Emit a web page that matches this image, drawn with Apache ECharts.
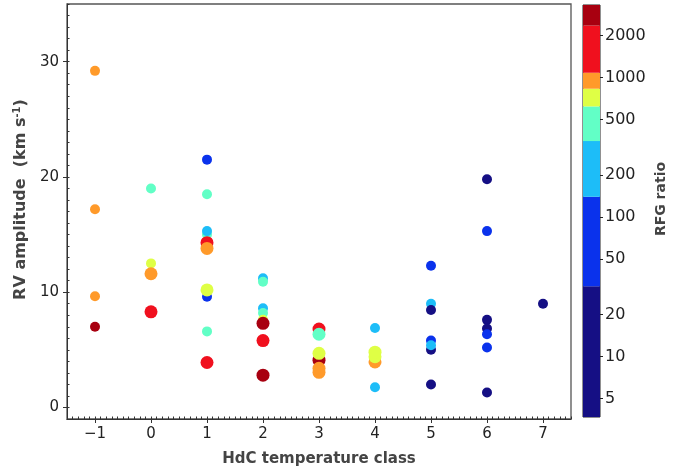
<!DOCTYPE html>
<html>
<head>
<meta charset="utf-8">
<script src="https://cdn.jsdelivr.net/npm/echarts@6/dist/echarts.min.js"></script>
<style>
  html, body { margin: 0; padding: 0; background: #fff; }
  #chart { width: 688px; height: 474px; }
</style>
</head>
<body>
<div id="chart"></div>
<script>
// HdC class, RV amplitude (km/s), RFG ratio, larger marker flag
const hdcClass = [-1, -1, -1, -1,
  0, 0, 0, 0,
  1, 1, 1, 1, 1, 1, 1, 1, 1, 1,
  2, 2, 2, 2, 2, 2, 2, 2,
  3, 3, 3, 3, 3, 3,
  4, 4, 4, 4, 4,
  5, 5, 5, 5, 5, 5, 5,
  6, 6, 6, 6, 6, 6, 6,
  7];
const rvAmp = [29.2, 17.2, 9.65, 7.0,
  19.0, 12.5, 11.6, 8.3,
  21.5, 18.5, 15.0, 15.3, 14.3, 13.8, 9.6, 10.2, 6.6, 3.9,
  11.2, 10.9, 8.6, 8.2, 7.6, 7.3, 5.8, 2.8,
  6.8, 6.35, 4.1, 4.7, 3.4, 3.05,
  6.9, 3.95, 4.4, 4.8, 1.75,
  12.3, 9.0, 8.45, 5.8, 5.0, 5.4, 2.0,
  19.8, 15.3, 7.6, 6.85, 6.35, 5.2, 1.3,
  9.0];
const rfgRatio = [950, 950, 950, 3000,
  450, 700, 950, 1500,
  60, 450, 450, 200, 1500, 950, 60, 700, 450, 1500,
  200, 450, 200, 450, 700, 3000, 1500, 3000,
  1500, 450, 3000, 700, 950, 950,
  200, 950, 700, 700, 200,
  60, 200, 10, 60, 10, 200, 10,
  10, 60, 10, 10, 60, 60, 10,
  10];
const bigMarker = [0, 0, 0, 0,
  0, 0, 1, 1,
  0, 0, 0, 0, 1, 1, 0, 1, 0, 1,
  0, 0, 0, 0, 0, 1, 1, 1,
  1, 1, 1, 1, 1, 1,
  0, 1, 1, 1, 0,
  0, 0, 0, 0, 0, 0, 0,
  0, 0, 0, 0, 0, 0, 0,
  0];

// colour bar bins (RFG ratio) and their colours
const rfgBins = [3.7, 32, 140, 350, 620, 830, 1080, 2350, 3300];
const binColors = ['#150f84', '#0a32ec', '#1dbdf8', '#62ffc6', '#dfff45', '#ff9a2a', '#f0101e', '#a80010'];
const rfgTicks = [5, 10, 20, 50, 100, 200, 500, 1000, 2000];

const xTicks = [-1, 0, 1, 2, 3, 4, 5, 6, 7];
const yTicks = [0, 10, 20, 30];

const points = hdcClass.map((c, i) => [c, rvAmp[i], rfgRatio[i], bigMarker[i]]);
const barData = binColors.map((c, i) => [Math.log10(rfgBins[i]), Math.log10(rfgBins[i + 1]), i]);

const xMinor = [];
for (let i = 0; i <= 90; i++) xMinor.push(Math.round((-1.5 + i * 0.1) * 10) / 10);
const yMinor = [];
for (let v = -1; v <= 35; v++) yMinor.push(v);

const font = 'DejaVu Sans';
const chart = echarts.init(document.getElementById('chart'));

chart.setOption({
  animation: false,
  textStyle: { fontFamily: font },
  grid: [
    { left: 67, right: 117, top: 4, bottom: 55, show: true, borderColor: '#555', borderWidth: 1.3 },
    { left: 583, width: 17, top: 5, height: 412, show: true, borderColor: '#222', borderWidth: 1 }
  ],
  visualMap: {
    type: 'piecewise',
    show: false,
    seriesIndex: 0,
    dimension: 2,
    pieces: binColors.map((c, i) => ({ gte: rfgBins[i], lt: rfgBins[i + 1], color: c }))
  },
  xAxis: [
    {
      gridIndex: 0, type: 'value', min: -1.5, max: 7.5, position: 'bottom',
      name: 'HdC temperature class', nameLocation: 'middle', nameGap: 33,
      nameTextStyle: { fontSize: 15, fontWeight: 'bold', color: '#444', fontFamily: font },
      axisLine: { onZero: false, lineStyle: { color: '#333', width: 1 } },
      axisTick: { customValues: xTicks, length: 4, lineStyle: { color: '#333' } },
      axisLabel: {
        customValues: xTicks, fontSize: 15, color: '#222', margin: 8,
        formatter: v => v < 0 ? '\u2212' + Math.abs(v) : String(v)
      },
      splitLine: { show: false }
    },
    {
      gridIndex: 0, type: 'value', min: -1.5, max: 7.5, position: 'bottom',
      axisLine: { show: false, onZero: false },
      axisTick: { customValues: xMinor, inside: true, length: 2.5, lineStyle: { color: '#333' } },
      axisLabel: { show: false },
      splitLine: { show: false }
    },
    { gridIndex: 1, type: 'value', min: 0, max: 1, show: false }
  ],
  yAxis: [
    {
      gridIndex: 0, type: 'value', min: -1, max: 35, position: 'left',
      name: '{a|RV amplitude  (km s}{s|-1}{a|)}', nameLocation: 'middle', nameGap: 32,
      nameTextStyle: {
        fontFamily: font,
        padding: [0, 0, 0, 24],
        rich: {
          a: { fontSize: 16, fontWeight: 'bold', color: '#444', fontFamily: font },
          s: { fontSize: 10, fontWeight: 'bold', color: '#444', fontFamily: font, verticalAlign: 'top', padding: [0, 0, 8, 0] }
        }
      },
      axisLine: { onZero: false, lineStyle: { color: '#333', width: 1 } },
      axisTick: { customValues: yTicks, length: 4, lineStyle: { color: '#333' } },
      axisLabel: { customValues: yTicks, fontSize: 15, color: '#222', margin: 8 },
      splitLine: { show: false }
    },
    {
      gridIndex: 0, type: 'value', min: -1, max: 35, position: 'left',
      axisLine: { show: false, onZero: false },
      axisTick: { customValues: yMinor, inside: true, length: 2.5, lineStyle: { color: '#333' } },
      axisLabel: { show: false },
      splitLine: { show: false }
    },
    {
      gridIndex: 1, type: 'value', position: 'right',
      min: Math.log10(rfgBins[0]), max: Math.log10(rfgBins[rfgBins.length - 1]),
      axisLine: { show: false, onZero: false },
      axisTick: { customValues: rfgTicks.map(v => Math.log10(v)), length: 3, lineStyle: { color: '#222' } },
      axisLabel: {
        customValues: rfgTicks.map(v => Math.log10(v)), fontSize: 16, color: '#222', margin: 5,
        formatter: v => String(Math.round(Math.pow(10, v)))
      },
      splitLine: { show: false }
    }
  ],
  graphic: [{
    type: 'text', x: 661, y: 199, rotation: Math.PI / 2,
    style: {
      text: 'RFG ratio', fontSize: 14, fontWeight: 'bold', fill: '#444', fontFamily: font,
      align: 'center', verticalAlign: 'middle'
    }
  }],
  series: [
    {
      type: 'scatter',
      xAxisIndex: 0, yAxisIndex: 0,
      data: points,
      symbolSize: d => d[3] ? 13 : 10,
      itemStyle: { opacity: 1 }
    },
    {
      type: 'custom',
      xAxisIndex: 2, yAxisIndex: 2,
      data: barData,
      renderItem: (params, api) => {
        const p1 = api.coord([0, api.value(0)]);
        const p2 = api.coord([1, api.value(1)]);
        return {
          type: 'rect',
          shape: { x: p1[0], y: p2[1], width: p2[0] - p1[0], height: p1[1] - p2[1] },
          style: { fill: binColors[api.value(2)] }
        };
      }
    }
  ]
});
</script>
</body>
</html>
